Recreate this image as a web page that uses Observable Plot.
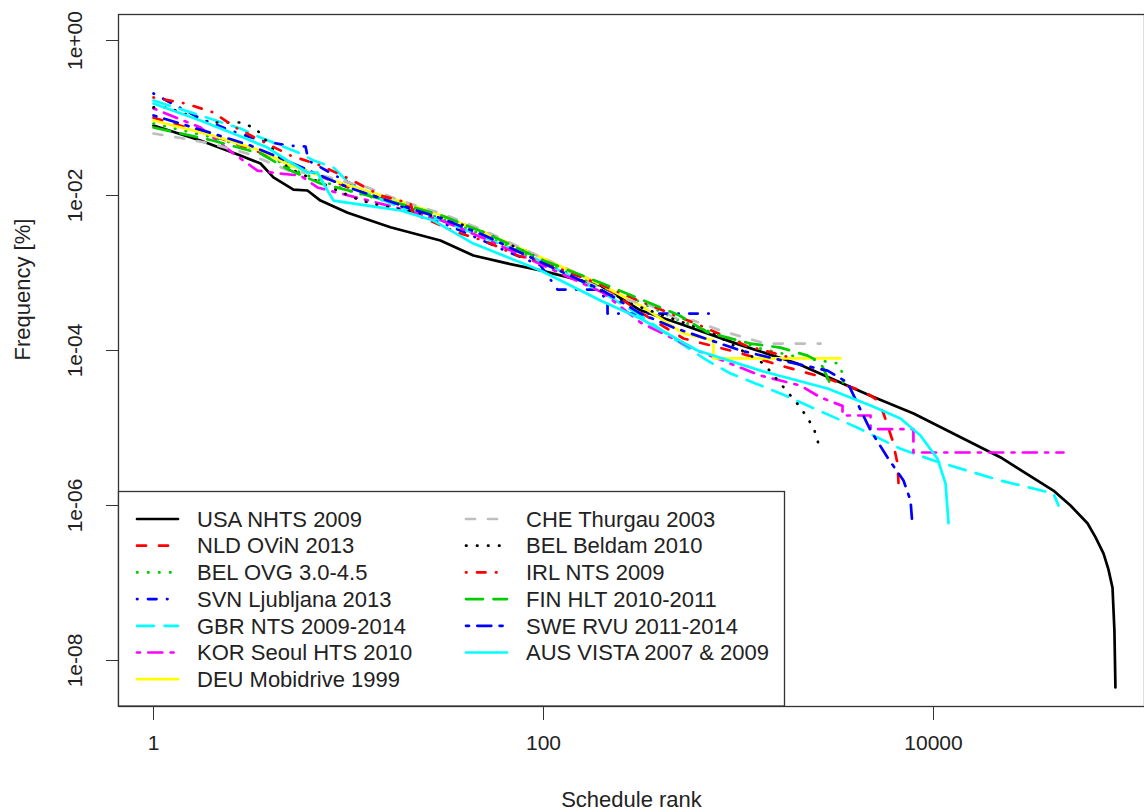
<!DOCTYPE html>
<html><head><meta charset="utf-8">
<script src="https://cdn.jsdelivr.net/npm/d3@7"></script>
<script src="https://cdn.jsdelivr.net/npm/@observablehq/plot@0.6"></script>
<style>
html,body{margin:0;padding:0;background:#fff;}
#chart svg{display:block;}
</style></head><body><div id="chart"></div>
<script>
// ---- data ----
const seriesNames = ["USA NHTS 2009", "NLD OViN 2013", "BEL OVG 3.0-4.5", "SVN Ljubljana 2013", "GBR NTS 2009-2014", "KOR Seoul HTS 2010", "DEU Mobidrive 1999", "CHE Thurgau 2003", "BEL Beldam 2010", "IRL NTS 2009", "FIN HLT 2010-2011", "SWE RVU 2011-2014", "AUS VISTA 2007 & 2009"];
const seriesColors = ["#000000","#FF0000","#00CD00","#0000FF","#00FFFF","#FF00FF","#FFFF00","#BEBEBE","#000000","#FF0000","#00CD00","#0000FF","#00FFFF"];
const seriesLty = ["solid","dashed","dotted","dotdash","longdash","twodash","solid","dashed","dotted","dotdash","longdash","twodash","solid"];

const xTicks = [1, 100, 10000];
const xTickLabels = ["1", "100", "10000"];
const yTicks = [1, 1e-2, 1e-4, 1e-6, 1e-8];
const yTickLabels = ["1e+00", "1e-02", "1e-04", "1e-06", "1e-08"];

const usaRank = [1, 1.74, 2.79, 3.54, 4.12, 5.22, 6.16, 7.18, 9.9, 16.4, 29.6, 43.7, 65.2, 96.6, 196, 314, 504, 1000, 2000, 4750, 7900, 22000, 41200, 50400, 61600, 67700, 74500, 78900, 82800, 84700, 85700];
const usaFreq = [0.080, 0.0513, 0.0328, 0.0259, 0.0171, 0.0119, 0.0116, 0.0086, 0.0060, 0.0039, 0.00263, 0.00168, 0.00133, 0.00108, 0.00069, 0.00033, 0.00022, 0.00012, 6.8e-5, 2.6e-5, 1.54e-5, 4.2e-6, 1.56e-6, 1.0e-6, 5.9e-7, 3.9e-7, 2.4e-7, 1.5e-7, 8.7e-8, 2.4e-8, 4.5e-9];

const nldRank = [1, 2.01, 3.54, 5.67, 10, 20.1, 30, 49.8, 100, 201, 314, 522, 1000, 1641, 2860, 4223, 4755, 5166, 5545, 6166, 6538, 6617];
const nldFreq = [0.101, 0.0594, 0.0359, 0.0223, 0.0127, 0.0074, 0.00552, 0.00333, 0.00154, 0.00069, 0.00031, 0.000143, 9.4e-5, 6.4e-5, 4.35e-5, 3.05e-5, 2.63e-5, 2.26e-5, 1.54e-5, 6.9e-6, 3.5e-6, 1.92e-6];

const ovgRank = [1, 2.01, 3.54, 5.04, 7.18, 10, 20.1, 30, 49.8, 100, 201, 300, 498, 809, 1297, 2080, 3258, 3415, 3455];
const ovgFreq = [0.0849, 0.056, 0.0381, 0.0223, 0.0156, 0.0116, 0.0070, 0.00505, 0.00305, 0.00137, 0.00065, 0.000442, 0.000244, 0.000156, 0.000106, 8.1e-5, 6.8e-5, 5.05e-5, 2.87e-5];

const svnRank = [1, 1.30, 1.74, 2.48, 3.54, 4.86, 6.02, 6.23, 9.10, 14.6, 23.4, 37.5, 60.1, 96.6, 118, 189, 213, 213, 718];
const svnFreq = [0.207, 0.145, 0.0986, 0.069, 0.0513, 0.0442, 0.0429, 0.0283, 0.0166, 0.0091, 0.00586, 0.00353, 0.00207, 0.00125, 0.000612, 0.000612, 0.000442, 0.0003, 0.0003];

const gbrRank = [1, 1.74, 2.79, 3.54, 5.67, 6.62, 8.38, 9.43, 11.5, 20.1, 30, 49.8, 100, 201, 314, 464, 693, 910, 1641, 4076, 6773, 10000, 22080, 41210, 43730];
const gbrFreq = [0.168, 0.108, 0.0732, 0.056, 0.0348, 0.0283, 0.023, 0.0171, 0.0116, 0.0064, 0.00475, 0.00287, 0.00137, 0.00056, 0.000283, 0.000143, 7.4e-5, 5.05e-5, 2.79e-5, 1.01e-5, 5.4e-6, 3.8e-6, 2.1e-6, 1.43e-6, 1.0e-6];

const korRank = [1, 1.74, 2.57, 3.41, 4.48, 5.67, 6.93, 10, 20.1, 30, 49.8, 100, 201, 314, 616, 1297, 2080, 2635, 3415, 3415, 4755, 4755, 7890, 7890, 46400];
const korFreq = [0.133, 0.0754, 0.0348, 0.021, 0.0192, 0.0181, 0.0127, 0.01, 0.0064, 0.00475, 0.00279, 0.00125, 0.00056, 0.00023, 0.0001, 4.75e-5, 3.53e-5, 2.48e-5, 1.93e-5, 1.45e-5, 1.45e-5, 9.66e-6, 9.66e-6, 4.83e-6, 4.83e-6];

const deuRank = [1, 2.01, 3.54, 5.04, 10, 20.1, 30, 49.8, 100, 201, 314, 522, 744, 744, 3335];
const deuFreq = [0.0929, 0.0594, 0.0381, 0.0244, 0.0135, 0.0079, 0.00552, 0.00333, 0.00154, 0.00069, 0.000381, 0.000166, 0.000135, 7.9e-5, 7.9e-5];

const cheRank = [1, 1.33, 1.96, 3.03, 5.22, 6.38, 12.5, 18.5, 30, 49.8, 100, 239, 354, 504, 588, 809, 1375, 2635];
const cheFreq = [0.0631, 0.056, 0.0469, 0.0348, 0.0198, 0.0198, 0.0127, 0.0086, 0.00586, 0.00353, 0.00154, 0.000483, 0.000381, 0.000244, 0.000244, 0.000181, 0.000123, 0.000123];

const beldamRank = [1, 1.18, 1.89, 2.79, 3.26, 3.54, 4.86, 5.67, 10.6, 13.0, 30, 49.8, 100, 196, 279, 744, 1344, 1641, 2080, 2427, 2635];
const beldamFreq = [0.137, 0.137, 0.0875, 0.0875, 0.0754, 0.0631, 0.023, 0.0192, 0.0094, 0.0079, 0.0052, 0.00333, 0.00145, 0.000594, 0.000404, 0.000166, 6.8e-5, 3.75e-5, 1.84e-5, 1.01e-5, 5.1e-6];

const irlRank = [1, 1.46, 2.03, 2.63, 3.54, 5.04, 7.18, 10, 14.6, 20.8, 21.5, 36.2, 49.2, 73.6, 100, 201, 354, 638, 1086, 1849];
const irlFreq = [0.184, 0.154, 0.118, 0.0754, 0.0513, 0.0328, 0.0244, 0.0166, 0.01, 0.0079, 0.00586, 0.00333, 0.00263, 0.00168, 0.00137, 0.00069, 0.000381, 0.00021, 0.000116, 8.1e-5];

const finRank = [1, 2.01, 3.54, 5.04, 7.18, 10, 20.1, 30, 49.8, 100, 201, 300, 498, 693, 1153, 1641, 2260, 2635, 2860, 3035];
const finFreq = [0.0754, 0.0513, 0.0348, 0.021, 0.0143, 0.0116, 0.0074, 0.00552, 0.00333, 0.00145, 0.000732, 0.000483, 0.000283, 0.000171, 0.000123, 0.000109, 8.6e-5, 7.0e-5, 4.5e-5, 3.05e-5];

const sweRank = [1, 2.01, 3.14, 5.04, 7.18, 10, 20.1, 30, 49.8, 100, 201, 314, 464, 1024, 1849, 2860, 3622, 4076, 4755, 5812, 7016, 7625, 7800];
const sweFreq = [0.108, 0.0631, 0.0442, 0.0267, 0.0181, 0.0127, 0.0070, 0.00505, 0.00305, 0.00133, 0.000594, 0.0003, 0.000198, 0.0001, 7.0e-5, 5.5e-5, 3.86e-5, 2.07e-5, 9.3e-6, 4.16e-6, 2.1e-6, 1.16e-6, 5.5e-7];

const ausRank = [1, 1.74, 2.89, 3.84, 4.86, 6.16, 6.93, 7.80, 8.38, 12.5, 18.5, 27.3, 43.7, 96.6, 196, 314, 616, 1297, 2860, 4755, 6773, 8570, 10490, 11530, 11940];
const ausFreq = [0.154, 0.0929, 0.056, 0.0416, 0.0283, 0.0198, 0.0198, 0.0116, 0.0086, 0.0074, 0.0064, 0.00475, 0.0024, 0.00108, 0.000442, 0.000259, 0.0001, 5.5e-5, 3.24e-5, 1.95e-5, 1.33e-5, 8.0e-6, 4.0e-6, 1.92e-6, 5.9e-7];

const seriesRanks = [usaRank, nldRank, ovgRank, svnRank, gbrRank, korRank, deuRank, cheRank, beldamRank, irlRank, finRank, sweRank, ausRank];
const seriesFreqs = [usaFreq, nldFreq, ovgFreq, svnFreq, gbrFreq, korFreq, deuFreq, cheFreq, beldamFreq, irlFreq, finFreq, sweFreq, ausFreq];

// ---- styling ----
const LW = 2.7;
const dashes = {
  solid: null,
  dashed: "9,13",
  dotted: "0.5,10.5",
  dotdash: "0.5,10.5,8.5,10.5",
  longdash: "17,10.5",
  twodash: "3,8.3,14,8.3"
};
const FONT = "'Liberation Sans', Arial, sans-serif";
const FS = 21;

const marks = [];
seriesNames.forEach((name, i) => {
  const data = seriesRanks[i].map((r, j) => ({series: name, rank: r, freq: seriesFreqs[i][j]}));
  marks.push(Plot.line(data, {
    x: "rank", y: "freq",
    stroke: seriesColors[i],
    strokeWidth: LW,
    strokeDasharray: dashes[seriesLty[i]] || undefined,
    strokeLinecap: "round",
    strokeLinejoin: "round"
  }));
});

const chart = Plot.plot({
  width: 1144,
  height: 811,
  marginLeft: 118,
  marginRight: 0,
  marginTop: 14,
  marginBottom: 105,
  style: {fontFamily: FONT, fontSize: FS + "px", color: "#222", background: "#fff"},
  x: {type: "log", domain: [0.6614, 120800]},
  y: {type: "log", domain: [2.55e-9, 2.166]},
  marks: [
    ...marks,
    Plot.frame({stroke: "#333", strokeWidth: 1.3}),
    Plot.axisX({ticks: xTicks, tickFormat: d => xTickLabels[xTicks.indexOf(d)], tickSize: 14, tickPadding: 15, fontSize: FS, label: null, stroke: "#333"}),
    Plot.axisY({ticks: yTicks, tickFormat: d => yTickLabels[yTicks.indexOf(d)], tickSize: 12, tickRotate: -90, tickPadding: 25, fontSize: FS, label: null, stroke: "#333"}),
    Plot.text(["Schedule rank"], {frameAnchor: "bottom", dy: 100, text: d => d, fontSize: FS + 1, fill: "#222"}),
    Plot.text(["Frequency [%]"], {frameAnchor: "left", dx: -96, rotate: -90, text: d => d, fontSize: FS + 1, fill: "#222"})
  ]
});

document.getElementById("chart").appendChild(chart);

// ---- legend (bottom-left, boxed, two columns) ----
const svg = d3.select(chart);
const lg = svg.append("g").attr("font-family", FONT).attr("font-size", 22).attr("text-anchor", "start");
const boxX = 118.5, boxY = 491.5, boxW = 666, boxH = 214.5;
lg.append("rect").attr("x", boxX).attr("y", boxY).attr("width", boxW).attr("height", boxH)
  .attr("fill", "#fff").attr("stroke", "#333").attr("stroke-width", 1.3);
const colLineX = [137, 466];
const colTextX = [197, 526];
const rowY0 = 519, rowStep = 26.7;
seriesNames.forEach((name, i) => {
  const col = i < 7 ? 0 : 1;
  const row = i < 7 ? i : i - 7;
  const y = rowY0 + row * rowStep;
  const ln = lg.append("line")
    .attr("x1", colLineX[col]).attr("x2", colLineX[col] + 41)
    .attr("y1", y).attr("y2", y)
    .attr("stroke", seriesColors[i]).attr("stroke-width", LW).attr("stroke-linecap", "round");
  if (dashes[seriesLty[i]]) ln.attr("stroke-dasharray", dashes[seriesLty[i]]);
  lg.append("text").attr("x", colTextX[col]).attr("y", y).attr("dy", "0.35em")
    .attr("text-anchor", "start").attr("fill", "#222").text(name);
});
</script>
</body></html>
